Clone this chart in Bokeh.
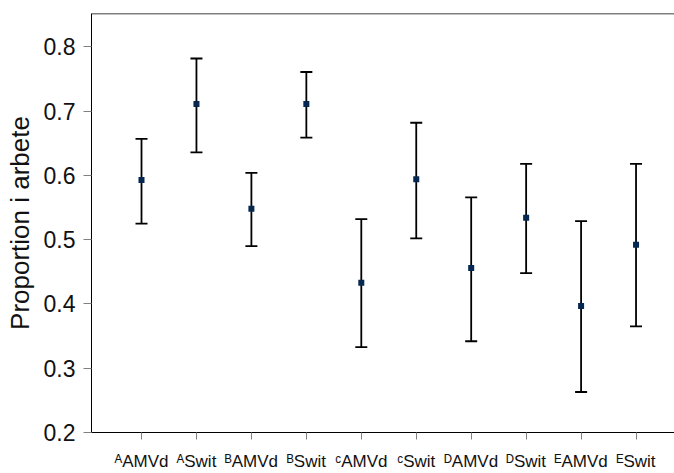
from bokeh.plotting import figure
from bokeh.models import (Range1d, FixedTicker, Whisker, Span,
                          TeeHead, ColumnDataSource)
from bokeh.embed import file_html
from bokeh.resources import INLINE

# ---- data ----
groups = ["ᴬ", "ᴬ", "ᴮ", "ᴮ", "ᶜ", "ᶜ", "ᴰ", "ᴰ", "ᴱ", "ᴱ"]
names = ["AMVd", "Swit", "AMVd", "Swit", "AMVd", "Swit", "AMVd", "Swit", "AMVd", "Swit"]
means = [0.593, 0.711, 0.548, 0.711, 0.433, 0.594, 0.456, 0.534, 0.397, 0.492]
uppers = [0.657, 0.782, 0.604, 0.761, 0.532, 0.682, 0.566, 0.618, 0.529, 0.618]
lowers = [0.525, 0.636, 0.490, 0.659, 0.333, 0.502, 0.342, 0.448, 0.263, 0.365]
y_ticks = [0.2, 0.3, 0.4, 0.5, 0.6, 0.7, 0.8]
y_label = "Proportion i arbete"

xs = list(range(len(names)))
src = ColumnDataSource(dict(x=xs, mean=means, upper=uppers, lower=lowers))

FONT = "Liberation Sans"
Y_TOP = 0.852

p = figure(width=674, height=473, output_backend="svg", toolbar_location=None,
           x_range=Range1d(-0.91, 9.70), y_range=Range1d(0.2, Y_TOP),
           min_border_left=91, min_border_right=0, min_border_top=13,
           min_border_bottom=38)
p.outline_line_color = "white"
p.outline_line_width = 2
p.xgrid.visible = False
p.ygrid.visible = False
p.background_fill_color = "white"
p.border_fill_color = "white"

# y axis
ya = p.yaxis[0]
ya.ticker = FixedTicker(ticks=y_ticks)
ya.axis_label = y_label
ya.axis_label_text_font = FONT
ya.axis_label_text_font_size = "26px"
ya.axis_label_text_font_style = "normal"
ya.axis_label_text_color = "#111111"
ya.axis_label_standoff = 6
ya.major_label_text_font = FONT
ya.major_label_text_font_size = "23px"
ya.major_label_text_color = "#111111"
ya.major_label_standoff = 8
ya.major_tick_out = 8
ya.major_tick_in = 0
ya.major_tick_line_color = "#808080"
ya.minor_tick_line_color = None
ya.axis_line_color = "black"

# x axis with group letters as superscripts
xa = p.xaxis[0]
xa.ticker = FixedTicker(ticks=xs)
xa.major_label_overrides = {x: g + n for x, g, n in zip(xs, groups, names)}
xa.major_label_text_font = FONT
xa.major_label_text_font_size = "17px"
xa.major_label_text_color = "#111111"
xa.major_label_standoff = 12
xa.major_tick_out = 7
xa.major_tick_in = 0
xa.major_tick_line_color = "#808080"
xa.minor_tick_line_color = None
xa.axis_line_color = "black"

# top border
p.add_layout(Span(location=Y_TOP, dimension="width", line_color="black",
                  line_width=1.5))

# error bars
wh = Whisker(source=src, base="x", upper="upper", lower="lower",
             dimension="height", line_color="black", line_width=1.8,
             upper_head=TeeHead(size=12, line_color="black", line_width=1.8),
             lower_head=TeeHead(size=12, line_color="black", line_width=1.8))
p.add_layout(wh)

# points
p.scatter("x", "mean", source=src, marker="square", size=6,
          fill_color="#062850", line_color=None)

open("out.html", "w").write(file_html(p, INLINE))
